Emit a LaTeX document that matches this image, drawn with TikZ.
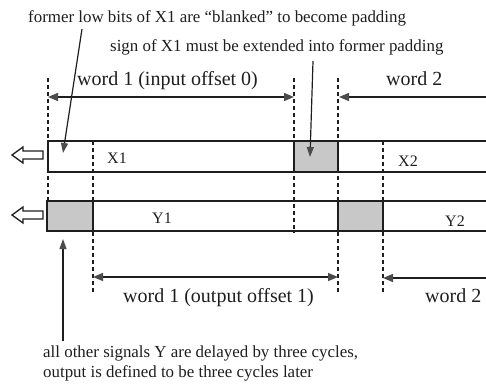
\documentclass[tikz,border=0pt]{standalone}
\usepackage{fontspec}
\setmainfont{Liberation Serif}
\usetikzlibrary{arrows.meta}
\definecolor{ink}{RGB}{30,30,30}
\definecolor{pad}{RGB}{200,200,200}
\begin{document}
\begin{tikzpicture}[x=1pt,y=-1pt,
  every node/.style={inner sep=0pt, anchor=base west, text=ink},
  note/.style={font=\fontsize{16.9}{19.5}\selectfont},
  lbl/.style={font=\fontsize{20}{24}\selectfont},
  sig/.style={font=\fontsize{16}{19}\selectfont},
  guide/.style={draw=ink, line width=1.1pt, dash pattern=on 4pt off 3pt},
  row/.style={draw=ink, line width=1.2pt},
  padbox/.style={fill=pad, draw=ink, line width=1.1pt},
  dim/.style={draw=ink, line width=1.3pt, {Triangle[length=10pt,width=8pt,color=ink!80]}-{Triangle[length=10pt,width=8pt,color=ink!80]}},
  lead/.style={draw=ink, line width=1.3pt, -{Triangle[length=10pt,width=8pt,color=ink!80]}},
  call/.style={draw=ink, line width=1.2pt, -{Triangle[length=10pt,width=7pt,color=ink!80]}},
  hollow/.style={draw=ink, line width=1.3pt, fill=white}]
\useasboundingbox (0,0) rectangle (486,385);

% padding slots
\path[padbox] (294,141) rectangle (338,172);
\path[padbox] (47,201) rectangle (93,231);
\path[padbox] (338,201) rectangle (383,231);

% word boundaries
\draw[guide] (48,78) -- (48,201);
\draw[guide] (93,141) -- (93,293);
\draw[guide] (294,78) -- (294,233);
\draw[guide] (338,78) -- (338,294);
\draw[guide] (383,141) -- (383,294);

% signal rows X and Y
\draw[row] (486,141) -- (48,141) -- (48,172) -- (486,172);
\draw[row] (486,201) -- (47,201) -- (47,231) -- (486,231);
\draw[padbox, fill=none] (294,141) rectangle (338,172);
\draw[padbox, fill=none] (47,201) rectangle (93,231);
\draw[padbox, fill=none] (338,201) rectangle (383,231);

% shift direction
\draw[hollow] (12,155) -- (23,147) -- (23,151) -- (43,151) -- (43,159) -- (23,159) -- (23,163) -- cycle;
\draw[hollow] (12,215) -- (23,207) -- (23,211) -- (43,211) -- (43,219) -- (23,219) -- (23,223) -- cycle;

% signal names
\node[sig] (x1) at (107,163) {X1};
\node[sig] (x2) at (398,166) {X2};
\node[sig] (y1) at (152,223) {Y1};
\node[sig] (y2) at (445,226) {Y2};

% word extents
\coordinate (in0a) at (48,97);
\coordinate (in0b) at (294,97);
\coordinate (in2a) at (486,97);
\coordinate (in2b) at (339,97);
\coordinate (out1a) at (93,277);
\coordinate (out1b) at (338,277);
\coordinate (out2a) at (486,278);
\coordinate (out2b) at (383,278);
\draw[dim] (in0a) -- (in0b);
\draw[lead] (in2a) -- (in2b);
\draw[dim] (out1a) -- (out1b);
\draw[lead] (out2a) -- (out2b);
\node[lbl] (win1) at (77,85) {word 1 (input offset 0)};
\node[lbl] (win2) at (386,85) {word 2};
\node[lbl] (wout1) at (123,302) {word 1 (output offset 1)};
\node[lbl] (wout2) at (425,302) {word 2};

% annotations
\node[note] (blank) at (28,23) {former low bits of X1 are “blanked” to become padding};
\node[note] (sign) at (110,52) {sign of X1 must be extended into former padding};
\node[note, align=left, anchor=north west] (delay) at (43,346)
  {all other signals Y are delayed by three cycles,\\output is defined to be three cycles later};

\coordinate (blankfoot) at (82,29);
\coordinate (blanktip) at (63,153);
\coordinate (signfoot) at (313,61);
\coordinate (signtip) at (310,157);
\coordinate (delayfoot) at (63,341);
\coordinate (delaytip) at (63,239);
\draw[call] (blankfoot) -- (blanktip);
\draw[call] (signfoot) -- (signtip);
\draw[call] (delayfoot) -- (delaytip);
\end{tikzpicture}
\end{document}
